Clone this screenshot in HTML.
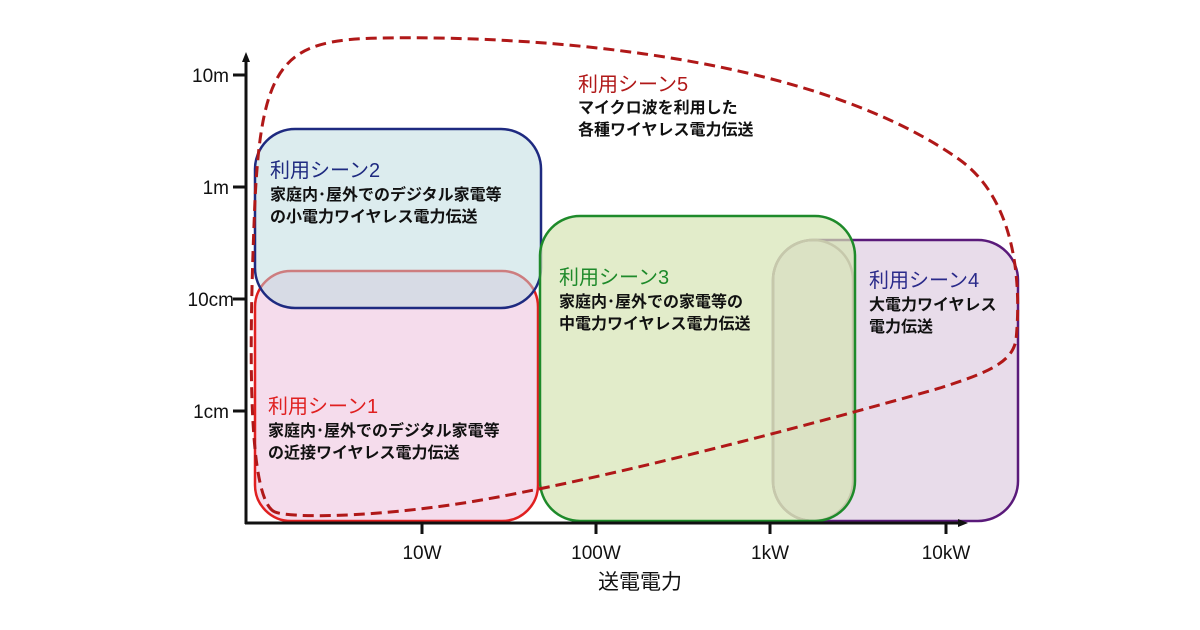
<!DOCTYPE html>
<html><head><meta charset="utf-8"><style>
html,body{margin:0;padding:0;background:#fff;width:1200px;height:630px;overflow:hidden}
svg{display:block}
text{font-family:"Liberation Sans","Noto Sans CJK JP",sans-serif}
.t{font-size:20px}
.b{font-size:16px;fill:#111;font-weight:bold}
.ax{font-size:19px;fill:#111}
</style></head><body>
<svg width="1200" height="630" viewBox="0 0 1200 630">
<rect x="255" y="271" width="283" height="250" rx="36" fill="#f5dcec" stroke="#e02020" stroke-width="2.5"/>
<rect x="255" y="129" width="286" height="179" rx="40" fill="#b9d9dd" fill-opacity="0.5" stroke="#1e2a80" stroke-width="2.5"/>
<rect x="773" y="240" width="245" height="281" rx="40" fill="#e8dcea" stroke="#5a1a7a" stroke-width="2.5"/>
<rect x="773" y="240" width="80" height="281" rx="40" fill="none" stroke="#a08898" stroke-width="2.5"/>
<rect x="540" y="216" width="315" height="305" rx="40" fill="#d6e4b4" fill-opacity="0.7" stroke="#1e8a2a" stroke-width="2.5"/>
<path d="M 275 512 C 245 500, 250 320, 255 200 C 262 60, 285 40, 380 38 C 560 35, 820 60, 960 160 C 1022 205, 1020 300, 1016 340 C 1012 362, 990 372, 940 388 C 800 428, 600 480, 470 502 C 370 518, 290 518, 275 512 Z" fill="none" stroke="#b01818" stroke-width="3" stroke-dasharray="11 6"/>
<line x1="246" y1="60" x2="246" y2="524" stroke="#111" stroke-width="3"/>
<polygon points="246,52 242,62 250,62" fill="#111"/>
<line x1="245" y1="523" x2="960" y2="523" stroke="#111" stroke-width="3"/>
<polygon points="968,523 958,519 958,527" fill="#111"/>
<g stroke="#111" stroke-width="3">
<line x1="233" y1="75" x2="246" y2="75"/><line x1="233" y1="187" x2="246" y2="187"/>
<line x1="233" y1="299" x2="246" y2="299"/><line x1="233" y1="411" x2="246" y2="411"/>
<line x1="422" y1="523" x2="422" y2="534"/><line x1="596" y1="523" x2="596" y2="534"/>
<line x1="770" y1="523" x2="770" y2="534"/><line x1="946" y1="523" x2="946" y2="534"/>
</g>
<g class="ax" text-anchor="end">
<text x="229" y="82">10m</text><text x="229" y="194">1m</text>
<text x="234" y="306">10cm</text><text x="229" y="418">1cm</text>
</g>
<g class="ax" text-anchor="middle">
<text x="422" y="559">10W</text><text x="596" y="559">100W</text>
<text x="770" y="559">1kW</text><text x="946" y="559">10kW</text>
<text x="640" y="589" style="font-size:21px">送電電力</text>
</g>
<text class="t" x="578" y="91" fill="#b01818">利用シーン5</text>
<text class="b" x="578" y="113">マイクロ波を利用した</text>
<text class="b" x="578" y="135">各種ワイヤレス電力伝送</text>
<text class="t" x="270" y="177" fill="#1e2a80">利用シーン2</text>
<text class="b" x="270" y="200">家庭内･屋外でのデジタル家電等</text>
<text class="b" x="270" y="222">の小電力ワイヤレス電力伝送</text>
<text class="t" x="268" y="413" fill="#e02020">利用シーン1</text>
<text class="b" x="268" y="436">家庭内･屋外でのデジタル家電等</text>
<text class="b" x="268" y="458">の近接ワイヤレス電力伝送</text>
<text class="t" x="559" y="284" fill="#1e8a2a">利用シーン3</text>
<text class="b" x="559" y="307">家庭内･屋外での家電等の</text>
<text class="b" x="559" y="329">中電力ワイヤレス電力伝送</text>
<text class="t" x="869" y="287" fill="#2a2a8a">利用シーン4</text>
<text class="b" x="869" y="310">大電力ワイヤレス</text>
<text class="b" x="869" y="332">電力伝送</text>
</svg>
</body></html>
